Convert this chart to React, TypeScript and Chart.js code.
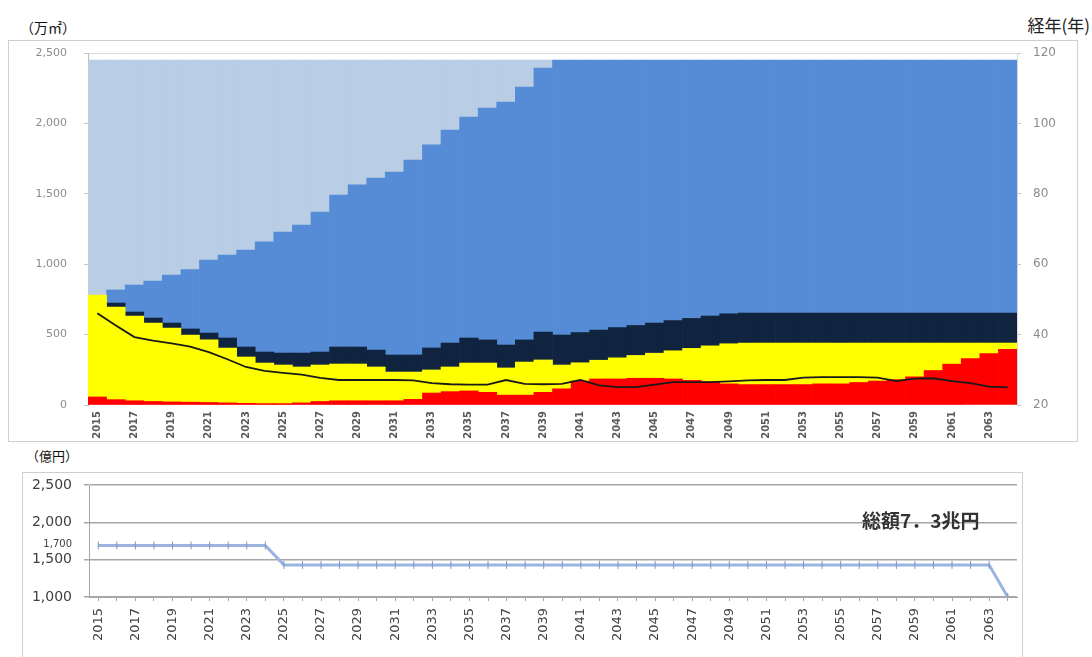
import React, { useEffect, useRef } from 'react';
import { Chart, registerables } from 'chart.js';

Chart.register(...registerables);
Chart.defaults.font.family = '"DejaVu Sans", sans-serif';

const years = [
  '2015', '2016', '2017', '2018', '2019', '2020', '2021', '2022', '2023', '2024',
  '2025', '2026', '2027', '2028', '2029', '2030', '2031', '2032', '2033', '2034',
  '2035', '2036', '2037', '2038', '2039', '2040', '2041', '2042', '2043', '2044',
  '2045', '2046', '2047', '2048', '2049', '2050', '2051', '2052', '2053', '2054',
  '2055', '2056', '2057', '2058', '2059', '2060', '2061', '2062', '2063', '2064',
];

// 万㎡ (stacked, bottom to top); null = no area that year
const redArea = [
  57, 38, 30, 25, 22, 20, 18, 15, 12, 10,
  10, 15, 25, 30, 30, 30, 30, 40, 85, 95,
  100, 90, 70, 70, 90, 115, 170, 185, 185, 190,
  190, 185, 175, 165, 150, 145, 145, 145, 145, 150,
  150, 160, 170, 180, 200, 245, 290, 330, 365, 395,
];
const yellowArea = [
  724, 658, 602, 557, 525, 477, 444, 390, 329, 288,
  274, 255, 259, 261, 261, 240, 204, 194, 164, 175,
  198, 208, 193, 235, 230, 169, 130, 133, 150, 162,
  178, 200, 227, 255, 285, 295, 295, 295, 295, 290,
  290, 280, 270, 260, 240, 195, 150, 110, 75, 45,
];
const navyArea = [
  null, 28, 28, 36, 35, 43, 49, 71, 71, 78,
  85, 99, 92, 121, 121, 120, 121, 121, 156, 170,
  178, 164, 163, 157, 198, 213, 215, 214, 215, 213,
  214, 215, 213, 212, 213, 213, 213, 213, 213, 213,
  213, 213, 213, 213, 213, 213, 213, 213, 213, 213,
];
const blueArea = [
  null, 93, 192, 262, 341, 422, 519, 589, 689, 782,
  860, 909, 995, 1079, 1151, 1222, 1300, 1385, 1442, 1513,
  1569, 1647, 1726, 1796, 1875, 1953, 1935, 1918, 1900, 1885,
  1868, 1850, 1835, 1818, 1802, 1797, 1797, 1797, 1797, 1797,
  1797, 1797, 1797, 1797, 1797, 1797, 1797, 1797, 1797, 1797,
];
const lightBlueArea = [
  1669, 1633, 1598, 1570, 1527, 1488, 1420, 1385, 1349, 1292,
  1221, 1172, 1079, 959, 887, 838, 795, 710, 603, 497,
  405, 341, 298, 192, 57, null, null, null, null, null,
  null, null, null, null, null, null, null, null, null, null,
  null, null, null, null, null, null, null, null, null, null,
];

// 経年(年), right axis
const avgAge = [
  46.1, 42.6, 39.3, 38.3, 37.5, 36.6, 35.0, 33.0, 30.8, 29.7,
  29.1, 28.6, 27.7, 27.1, 27.1, 27.1, 27.1, 27.0, 26.2, 25.9,
  25.8, 25.8, 27.1, 26.0, 25.9, 26.0, 27.1, 25.6, 25.1, 25.1,
  25.8, 26.5, 26.5, 26.5, 26.7, 27.0, 27.1, 27.1, 27.8, 27.9,
  27.9, 27.9, 27.8, 26.8, 27.5, 27.6, 26.8, 26.2, 25.2, 25.0,
];

// 億円
const annualCost = [
  1690, 1690, 1690, 1690, 1690, 1690, 1690, 1690, 1690, 1690,
  1430, 1430, 1430, 1430, 1430, 1430, 1430, 1430, 1430, 1430,
  1430, 1430, 1430, 1430, 1430, 1430, 1430, 1430, 1430, 1430,
  1430, 1430, 1430, 1430, 1430, 1430, 1430, 1430, 1430, 1430,
  1430, 1430, 1430, 1430, 1430, 1430, 1430, 1430, 1430, 1000,
];
const costTicks = [1000, 1500, 1700, 2000, 2500];

const fmt = (v: any) => Number(v).toLocaleString('en-US');
const everyOther = (_v: any, i: number) => (i % 2 === 0 ? years[i] : '');
const noPad = (s: any) => {
  s.paddingLeft = 0;
  s.paddingRight = 0;
  s.paddingTop = 0;
  s.paddingBottom = 0;
};

export default function App() {
  const topRef = useRef<HTMLCanvasElement>(null);
  const botRef = useRef<HTMLCanvasElement>(null);

  useEffect(() => {
    const top = new Chart(topRef.current as HTMLCanvasElement, {
      type: 'bar',
      data: {
        labels: years,
        datasets: [
          {
            type: 'line',
            label: '経年',
            data: avgAge,
            yAxisID: 'y1',
            borderColor: '#1a1a1a',
            borderWidth: 1.8,
            pointRadius: 0,
            tension: 0,
            order: 0,
          } as any,
          { label: 'r', data: redArea, backgroundColor: '#FF0000', yAxisID: 'y', order: 1 },
          { label: 'yl', data: yellowArea, backgroundColor: '#FFFF00', yAxisID: 'y', order: 1 },
          { label: 'nv', data: navyArea, backgroundColor: '#10243F', yAxisID: 'y', order: 1 },
          { label: 'bl', data: blueArea, backgroundColor: '#558CD5', yAxisID: 'y', order: 1 },
          { label: 'lb', data: lightBlueArea, backgroundColor: '#B9CDE5', yAxisID: 'y', order: 1 },
        ],
      },
      options: {
        responsive: false,
        animation: false,
        layout: { padding: { top: 12, left: 0, right: 0, bottom: 0 } },
        plugins: { legend: { display: false }, tooltip: { enabled: false } },
        datasets: { bar: { barPercentage: 1, categoryPercentage: 1, borderWidth: 0 } },
        scales: {
          x: {
            stacked: true,
            offset: true,
            grid: { display: false, drawTicks: false },
            border: { display: false },
            ticks: {
              autoSkip: false,
              minRotation: 90,
              maxRotation: 90,
              padding: 6,
              color: '#5a5a5a',
              font: { size: 10, weight: 'bold' },
              callback: everyOther,
            },
            afterFit: (s: any) => { s.height = 36; noPad(s); },
          },
          y: {
            stacked: true,
            position: 'left',
            min: 0,
            max: 2500,
            ticks: { stepSize: 500, padding: 17, color: '#8c8c8c', font: { size: 11 }, callback: fmt },
            grid: {
              color: (c: any) => (c.tick && c.tick.value === 2500 ? '#e3d9d9' : 'rgba(0,0,0,0)'),
              drawTicks: true,
              tickLength: 4,
              tickColor: '#c4c4c4',
            },
            border: { display: true, color: '#bdbdbd' },
            afterFit: (s: any) => { s.width = 79; noPad(s); },
          },
          y1: {
            position: 'right',
            min: 20,
            max: 120,
            ticks: { stepSize: 20, padding: 12, color: '#8c8c8c', font: { size: 12 } },
            grid: { drawOnChartArea: false, tickLength: 4, color: '#c4c4c4' },
            border: { display: true, color: '#d9d9d9' },
            afterFit: (s: any) => { s.width = 60; noPad(s); },
          },
        },
      } as any,
    });

    const bottom = new Chart(botRef.current as HTMLCanvasElement, {
      type: 'line',
      data: {
        labels: years,
        datasets: [
          {
            label: '億円',
            data: annualCost,
            borderColor: '#9CB4DF',
            borderWidth: 3,
            pointStyle: 'line',
            pointRotation: 90,
            pointRadius: 4,
            pointBorderColor: '#7f96c2',
            pointBackgroundColor: '#7f96c2',
            pointBorderWidth: 1,
            tension: 0,
          },
        ],
      },
      options: {
        responsive: false,
        animation: false,
        layout: { padding: { top: 12, left: 0, right: 2, bottom: 0 } },
        plugins: { legend: { display: false }, tooltip: { enabled: false } },
        scales: {
          x: {
            offset: true,
            grid: { display: true, drawOnChartArea: false, drawTicks: true, tickLength: 4, color: '#a6a6a6', offset: false },
            border: { display: true, color: '#a6a6a6' },
            ticks: {
              autoSkip: false,
              minRotation: 90,
              maxRotation: 90,
              padding: 7,
              color: '#444',
              font: { size: 13 },
              callback: everyOther,
            },
            afterFit: (s: any) => { s.height = 60; noPad(s); },
          },
          y: {
            min: 1000,
            max: 2500,
            afterBuildTicks: (s: any) => { s.ticks = costTicks.map((v) => ({ value: v })); },
            ticks: {
              autoSkip: false,
              padding: 12,
              color: '#404040',
              font: (c: any) => (c.tick && c.tick.value === 1700 ? { size: 10 } : { size: 14 }),
              callback: fmt,
            },
            grid: {
              color: (c: any) => (c.tick && c.tick.value === 1700 ? 'rgba(0,0,0,0)' : '#a6a6a6'),
              lineWidth: 1.5,
              tickLength: 5,
            },
            border: { display: true, color: '#a6a6a6' },
            afterFit: (s: any) => { s.width = 66; noPad(s); },
          },
        },
      } as any,
    });

    return () => {
      top.destroy();
      bottom.destroy();
    };
  }, []);

  const cjk = '"Noto Sans CJK JP", "Noto Sans", sans-serif';

  return (
    <div
      style={{
        position: 'absolute',
        left: 0,
        top: 0,
        width: 1092,
        height: 657,
        overflow: 'hidden',
        background: '#fff',
        fontFamily: cjk,
      }}
    >
      <div style={{ position: 'absolute', left: 20, top: 19, fontSize: 14, lineHeight: '16px', color: '#111' }}>
        （万㎡）
      </div>
      <div style={{ position: 'absolute', right: 2, top: 15, fontSize: 17, lineHeight: '19px', color: '#222' }}>
        経年(年)
      </div>
      <div
        style={{
          position: 'absolute',
          left: 8,
          top: 40,
          width: 1070,
          height: 402,
          boxSizing: 'border-box',
          border: '1px solid #cfcfcf',
        }}
      >
        <canvas ref={topRef} width={1068} height={400} style={{ position: 'absolute', left: 0, top: 0, width: 1068, height: 400 }} />
      </div>

      <div style={{ position: 'absolute', left: 26, top: 448, fontSize: 13, lineHeight: '15px', color: '#111' }}>
        （億円）
      </div>
      <div
        style={{
          position: 'absolute',
          left: 22,
          top: 472,
          width: 1001,
          height: 185,
          boxSizing: 'border-box',
          border: '1px solid #cfcfcf',
          borderBottom: 'none',
        }}
      >
        <canvas ref={botRef} width={999} height={184} style={{ position: 'absolute', left: 0, top: 0, width: 999, height: 184 }} />
      </div>
      <div
        style={{
          position: 'absolute',
          left: 862,
          top: 509,
          fontSize: 19,
          lineHeight: '22px',
          fontWeight: 'bold',
          color: '#333',
          whiteSpace: 'nowrap',
        }}
      >
        総額7．3兆円
      </div>
    </div>
  );
}
